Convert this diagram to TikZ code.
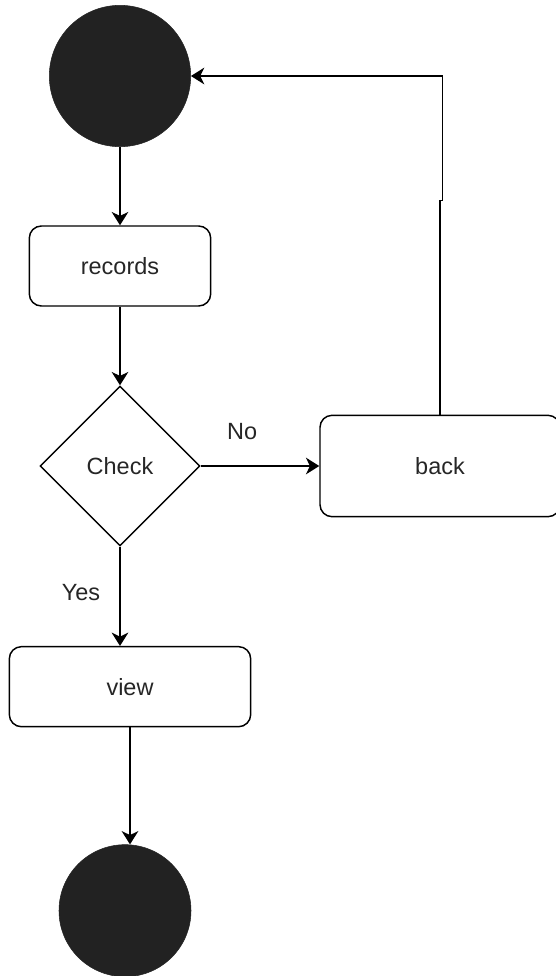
\documentclass[tikz,border=0pt]{standalone}
\usepackage{fontspec}
\setmainfont{Liberation Sans}
\usepackage{xcolor}
\usetikzlibrary{arrows.meta,positioning,shapes.geometric,calc}
\definecolor{dotfill}{HTML}{222222}

\begin{document}
\begin{tikzpicture}[node distance=150pt, auto,
  font=\fontsize{17.6pt}{21pt}\selectfont, text=black!85,
  block/.style={rectangle, draw, line width=1.1pt, rounded corners=9pt, minimum width=181pt, minimum height=60pt, inner sep=0pt},
  decision/.style={diamond, draw, line width=1.1pt, minimum width=120pt, minimum height=120pt, inner sep=0pt},
  dot/.style={circle, draw=dotfill, fill=dotfill, inner sep=0pt},
  line/.style={draw, line width=1.1pt, -{Stealth[length=10pt, width=12.5pt, inset=3pt]}}]

  \useasboundingbox (0,0) rectangle (417pt,-732pt);
  \node [dot, minimum size=106pt] (start) at (90pt,-57pt) {};
  \node [block, below of=start, yshift=7.5pt, minimum width=136pt] (records) {records};
  \node [decision, below of=records] (check) {Check};
  \node [block, right of=check, xshift=90pt, minimum width=180pt, minimum height=76pt] (back) {back};
  \node [block, below of=check, xshift=7.5pt, yshift=-15.5pt] (view) {view};
  \node [dot, minimum size=99pt, below of=view, xshift=-3.75pt, yshift=-18pt] (end) {};

  \path [line] (start) -- (records);
  \path [line] (records) -- (check);
  \path [line] (check) -- node[pos=0.35, anchor=center, yshift=25.5pt]{No} (back);
  \path [line] (check.south) -- node[pos=0.465, anchor=center, xshift=-29.25pt]{Yes} (check.south |- view.north);
  \path [line] (view.south) -- (view.south |- end.north);
  \path [line] (back.north) -- ++(0,160.5pt) -- ++(2pt,0) |- (start.east);
\end{tikzpicture}
\end{document}
